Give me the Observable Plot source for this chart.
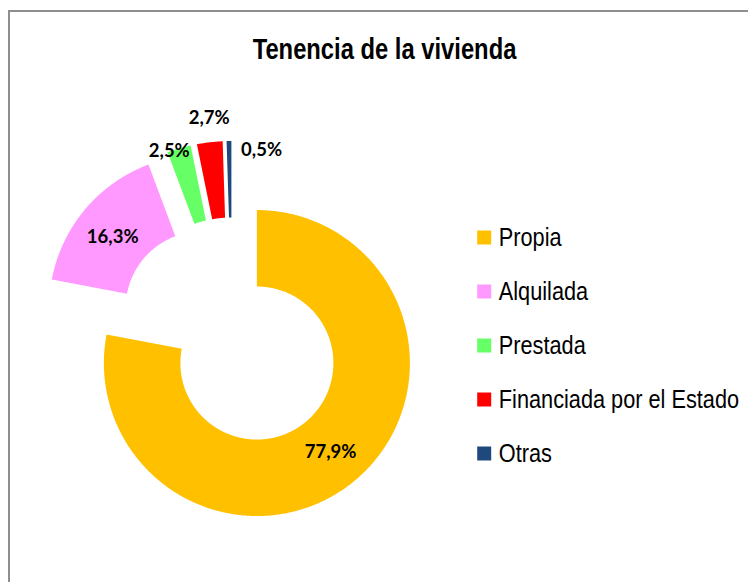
<!DOCTYPE html>
<html>
<head>
<meta charset="utf-8">
<script src="https://cdn.jsdelivr.net/npm/d3@7"></script>
<script src="https://cdn.jsdelivr.net/npm/@observablehq/plot@0.6"></script>
<style>
  html, body { margin: 0; padding: 0; background: #fff; }
  #wrap { position: relative; width: 748px; height: 582px; overflow: hidden; background: #fff; }
  #frame { position: absolute; left: 8px; top: 10px; width: 800px; height: 700px;
           border-left: 2px solid #8e8e8e; border-top: 2px solid #8e8e8e; }
  #main { position: absolute; left: 0; top: 0; }
  #legend { position: absolute; left: 470px; top: 209px; }
</style>
</head>
<body>
<div id="wrap">
  <div id="frame"></div>
  <div id="main"></div>
  <div id="legend"></div>
</div>
<script>
// ---- data ----
const title = "Tenencia de la vivienda";
const categories = ["Propia", "Alquilada", "Prestada", "Financiada por el Estado", "Otras"];
const values = [77.9, 16.3, 2.5, 2.7, 0.5];
const labels = ["77,9%", "16,3%", "2,5%", "2,7%", "0,5%"];
const colors = ["#FFC000", "#FF99FF", "#66FF66", "#FF0000", "#1F497D"];

// ---- layout (not data) ----
const innerRatio = 0.5;          // doughnut hole
const explode = 0.255;           // slice explosion, in radii
const labelRadius = [0.75, 0.75, 1.01, 1.16, 0.965];
const labelAngleShift = [0, -1.7, -3.8, 0.6, 12.5];  // degrees

// font availability check for a narrow (Arial Narrow-like) face
function w(font) {
  const c = document.createElement("canvas").getContext("2d");
  c.font = font; return c.measureText("Financiada por el Estado").width;
}
const narrowOK = w("26px 'Liberation Sans Narrow', monospace") !== w("26px monospace");
const narrowFamily = narrowOK ? "'Liberation Sans Narrow', 'Arial Narrow', sans-serif" : "'Liberation Sans', Arial, sans-serif";

// ---- geometry built from the values ----
const total = d3.sum(values);
const slices = [];
let acc = 0;
categories.forEach((c, i) => {
  const a0 = acc / total * 2 * Math.PI;
  acc += values[i];
  const a1 = acc / total * 2 * Math.PI;
  const mid = (a0 + a1) / 2;
  slices.push({cat: c, a0, a1, mid, cx: explode * Math.sin(mid), cy: explode * Math.cos(mid)});
});

const arcPts = [];
slices.forEach(s => {
  const n = Math.max(2, Math.ceil((s.a1 - s.a0) / (Math.PI / 360)));
  for (let k = 0; k <= n; k++) {
    const t = s.a0 + (s.a1 - s.a0) * k / n;
    arcPts.push({
      cat: s.cat,
      xi: s.cx + innerRatio * Math.sin(t), yi: s.cy + innerRatio * Math.cos(t),
      xo: s.cx + Math.sin(t), yo: s.cy + Math.cos(t)
    });
  }
});

const labelPts = slices.map((s, i) => {
  const t = s.mid + labelAngleShift[i] * Math.PI / 180;
  return {label: labels[i], x: s.cx + labelRadius[i] * Math.sin(t), y: s.cy + labelRadius[i] * Math.cos(t)};
});

const R = 153, CX = 232, CY = 333;   // pixel placement of the doughnut
const main = Plot.plot({
  width: 748, height: 582,
  marginTop: 0, marginRight: 0, marginBottom: 0, marginLeft: 0,
  x: {domain: [-CX / R, (748 - CX) / R], axis: null},
  y: {domain: [(CY - 582) / R, CY / R], axis: null},
  color: {domain: categories, range: colors},
  style: {background: "transparent"},
  marks: [
    Plot.area(arcPts, {x1: "xi", y1: "yi", x2: "xo", y2: "yo", z: "cat", fill: "cat", curve: "linear"}),
    Plot.text(labelPts, {x: "x", y: "y", text: "label", fill: "#000", fontSize: 18.5,
      fontWeight: "bold", fontFamily: "Lato, 'Open Sans', sans-serif", lineAnchor: "middle"}),
    Plot.text([title], {frameAnchor: "top", dx: 10, dy: 49, text: d => d, lineAnchor: "middle",
      fontSize: 29, fontWeight: "bold", fontFamily: narrowFamily, fill: "#000"})
  ]
});
document.getElementById("main").appendChild(main);

const legend = Plot.plot({
  width: 278, height: 272,
  marginTop: 0, marginRight: 0, marginBottom: 0, marginLeft: 0,
  y: {type: "point", domain: categories, range: [27.3, 27.3 + 4 * 54.2], padding: 0, axis: null},
  color: {domain: categories, range: colors},
  style: {background: "transparent", overflow: "visible"},
  marks: [
    Plot.dot(categories, {y: d => d, fill: d => d, symbol: "square", r: 14 / Math.sqrt(Math.PI),
      frameAnchor: "left", dx: 13.7, stroke: "none"}),
    Plot.text(categories, {y: d => d, text: d => d, frameAnchor: "left", dx: 28.3, textAnchor: "start",
      lineAnchor: "middle", fontSize: 26.5, fontFamily: narrowFamily, fill: "#000"})
  ]
});
document.getElementById("legend").appendChild(legend);

if (!narrowOK) {
  const narrowTexts = [...legend.querySelectorAll("text")].concat([...main.querySelectorAll("text")].filter(t => t.textContent === title));
  narrowTexts.forEach(t => t.setAttribute("transform", (t.getAttribute("transform") || "") + " scale(0.82,1)"));
}
</script>
</body>
</html>
